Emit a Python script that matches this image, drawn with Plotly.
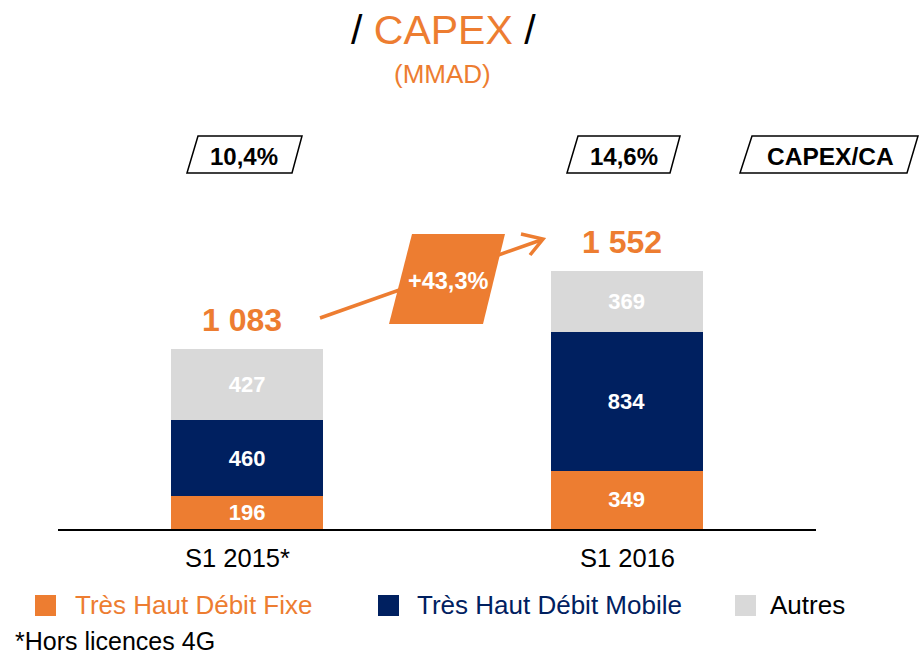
import plotly.graph_objects as go

# ---------------- data ----------------
categories = ["S1 2015*", "S1 2016"]
fixe = [196, 349]
mobile = [460, 834]
autres = [427, 369]
series_names = ["Très Haut Débit Fixe", "Très Haut Débit Mobile", "Autres"]
series_colors = ["#ED7D31", "#002060", "#D9D9D9"]
legend_text_colors = ["#ED7D31", "#002060", "#000000"]
capex_ca = ["10,4%", "14,6%"]
capex_ca_label = "CAPEX/CA"
growth_label = "+43,3%"
footnote = "*Hors licences 4G"

totals = [a + b + c for a, b, c in zip(fixe, mobile, autres)]


def fmt(n):
    return f"{n:,}".replace(",", " ")


FONT = "Liberation Sans, Arial, sans-serif"
ORANGE = series_colors[0]

W, H = 920, 655
ML, MR, MT, MB = 58, 104, 100, 126
PW, PH = W - ML - MR, H - MT - MB


def px(x):
    return (x - ML) / PW


def py(y):
    return (H - MB - y) / PH


def path(points, close=True):
    s = "M " + " L ".join(f"{px(x):.5f},{py(y):.5f}" for x, y in points)
    return s + (" Z" if close else "")


def note(x, y, text, size, color="black", bold=False, xanchor="center"):
    f = dict(size=size, color=color, family=FONT)
    if bold:
        f["weight"] = "bold"
    return dict(x=px(x), y=py(y), xref="paper", yref="paper", text=text, showarrow=False,
                xanchor=xanchor, yanchor="middle", font=f)


fig = go.Figure()
for vals, name, col in zip([fixe, mobile, autres], series_names, series_colors):
    fig.add_trace(go.Bar(
        x=categories, y=vals, name=name, marker=dict(color=col, line=dict(width=0)),
        width=0.40, text=[str(v) for v in vals], textposition="inside",
        insidetextanchor="middle", textangle=0, constraintext="none",
        textfont=dict(color="white", size=22, family=FONT, weight="bold"),
        showlegend=False, hoverinfo="x+y+name",
    ))

annotations = []
shapes = []

# totals above bars
for c, t in zip(categories, totals):
    annotations.append(dict(x=c, y=t, xref="x", yref="y", text=fmt(t), showarrow=False,
                            xanchor="center", yanchor="middle", yshift=29, xshift=-5,
                            font=dict(size=32, color=ORANGE, family=FONT, weight="bold")))

# category labels under the baseline
for c, dx in zip(categories, [-10, 1]):
    annotations.append(dict(x=c, y=0, xref="x", yref="y", text=c, showarrow=False,
                            xanchor="center", yanchor="middle", yshift=-29, xshift=dx,
                            font=dict(size=25.5, color="black", family=FONT)))

# title
annotations.append(note(443, 30, f"/ <span style='color:{ORANGE}'>CAPEX</span> /", 41))
annotations.append(note(442, 74, "(MMAD)", 26, ORANGE))

# CAPEX/CA boxes
boxes = [
    ([(187, 173), (198, 136), (302, 136), (292, 173)], capex_ca[0], 244, 24),
    ([(567, 173), (578, 136), (680, 136), (670, 173)], capex_ca[1], 624, 24),
    ([(740, 173), (752, 136), (918, 136), (907, 173)], capex_ca_label, 831, 24.5),
]
for pts, label, cx, fs in boxes:
    shapes.append(dict(type="path", xref="paper", yref="paper", path=path(pts),
                       line=dict(color="black", width=1.5), fillcolor="white", layer="above"))
    annotations.append(note(cx, 156, label, fs, bold=True))

# growth arrow
shapes.append(dict(type="path", xref="paper", yref="paper",
                   path=path([(320, 318), (541, 240)], close=False),
                   line=dict(color=ORANGE, width=3.5), layer="above"))
shapes.append(dict(type="path", xref="paper", yref="paper",
                   path=path([(521, 234), (543, 239), (530, 255)], close=False),
                   line=dict(color=ORANGE, width=3.5), layer="above"))
shapes.append(dict(type="path", xref="paper", yref="paper",
                   path=path([(412, 234), (505, 234), (483, 324), (389, 324)]),
                   line=dict(width=0), fillcolor=ORANGE, layer="above"))
annotations.append(note(448, 281, growth_label, 23.5, "white", bold=True))

# legend (manual)
legend_sq_x = [35, 378, 735]
legend_tx_x = [73, 415, 768]
for name, col, tcol, sx, tx in zip(series_names, series_colors, legend_text_colors,
                                   legend_sq_x, legend_tx_x):
    shapes.append(dict(type="rect", xref="paper", yref="paper",
                       x0=px(sx), x1=px(sx + 21), y0=py(616), y1=py(595),
                       fillcolor=col, line=dict(width=0)))
    annotations.append(note(tx, 605, name, 26, tcol, xanchor="left"))

annotations.append(note(13, 641, footnote, 25, xanchor="left"))

fig.update_layout(
    barmode="stack", width=W, height=H,
    margin=dict(l=ML, r=MR, t=MT, b=MB),
    paper_bgcolor="white", plot_bgcolor="white",
    shapes=shapes, annotations=annotations, showlegend=False,
    xaxis=dict(type="category", categoryorder="array", categoryarray=categories,
               range=[-0.498, 1.499], showline=True, linecolor="black", linewidth=2,
               showgrid=False, zeroline=False, ticks="", showticklabels=False),
    yaxis=dict(range=[0, 2580], visible=False, showgrid=False, zeroline=False),
    font=dict(family=FONT),
)

fig.write_html("out.html", config={"displayModeBar": False},
               post_script="document.body.style.margin='0';")
